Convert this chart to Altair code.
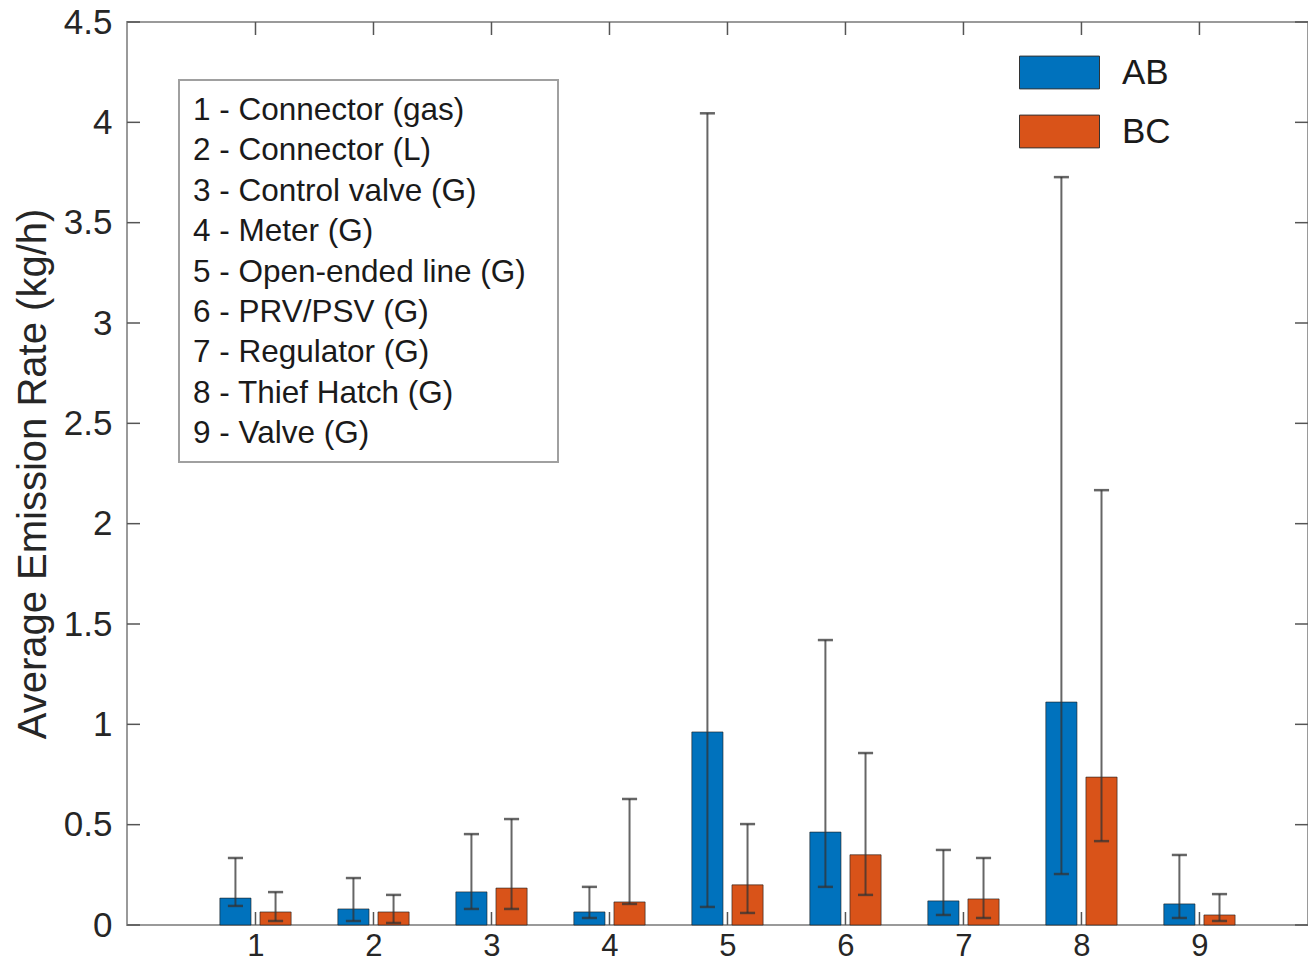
import altair as alt
import pandas as pd

# ---- data ----
categories = [1, 2, 3, 4, 5, 6, 7, 8, 9]
category_labels = [
    "1 - Connector (gas)",
    "2 - Connector (L)",
    "3 - Control valve (G)",
    "4 - Meter (G)",
    "5 - Open-ended line (G)",
    "6 - PRV/PSV (G)",
    "7 - Regulator (G)",
    "8 - Thief Hatch (G)",
    "9 - Valve (G)",
]
series_names = ["AB", "BC"]
ab_mean = [0.134, 0.080, 0.165, 0.065, 0.962, 0.463, 0.120, 1.111, 0.105]
ab_low = [0.095, 0.020, 0.080, 0.035, 0.090, 0.190, 0.050, 0.254, 0.035]
ab_high = [0.334, 0.234, 0.453, 0.190, 4.045, 1.420, 0.374, 3.727, 0.349]
bc_mean = [0.065, 0.065, 0.184, 0.115, 0.200, 0.350, 0.130, 0.737, 0.050]
bc_low = [0.020, 0.010, 0.080, 0.105, 0.060, 0.150, 0.035, 0.418, 0.020]
bc_high = [0.164, 0.150, 0.528, 0.628, 0.503, 0.857, 0.334, 2.167, 0.154]
y_ticks = [0, 0.5, 1, 1.5, 2, 2.5, 3, 3.5, 4, 4.5]
colors = ["#0072BD", "#D95319"]

rows = []
for i, c in enumerate(categories):
    rows.append({"cat": c, "series": "AB", "mean": ab_mean[i], "lo": ab_low[i], "hi": ab_high[i]})
    rows.append({"cat": c, "series": "BC", "mean": bc_mean[i], "lo": bc_low[i], "hi": bc_high[i]})
df = pd.DataFrame(rows)

W, H = 1181, 903
FONT = "Liberation Sans"
TXT = "#262626"

xscale = alt.Scale(domain=[-0.089, 9.92], nice=False, zero=False)
yscale = alt.Scale(domain=[0, 4.5], nice=False)

base = alt.Chart(df).transform_calculate(
    xc="datum.cat + (datum.series == 'AB' ? -0.17 : 0.17)"
).transform_calculate(
    x0="datum.xc - 0.132", x1="datum.xc + 0.132",
    c0="datum.xc - 0.064", c1="datum.xc + 0.064",
)

bars = base.mark_bar(stroke="#1a1a1a", strokeWidth=1, strokeOpacity=0.6).encode(
    x=alt.X("x0:Q", scale=xscale,
            axis=alt.Axis(values=categories, format="d", title=None, grid=False,
                          ticks=False, domain=False, labelFontSize=31,
                          labelColor=TXT, labelFont=FONT, labelPadding=6)),
    x2="x1:Q",
    y=alt.Y("mean:Q", scale=yscale,
            axis=alt.Axis(values=y_ticks, format="~g", title="Average Emission Rate (kg/h)",
                          grid=False, ticks=False, domain=False, labelFontSize=35,
                          labelColor=TXT, labelFont=FONT, labelPadding=15,
                          titleFontSize=40, titleFontWeight="normal", titleColor=TXT,
                          titleFont=FONT, titlePadding=10)),
    y2=alt.value(H),
    color=alt.Color("series:N", scale=alt.Scale(domain=series_names, range=colors),
                    legend=alt.Legend(title=None, orient="none", legendX=892, legendY=10,
                                      symbolType="M-1,-0.41H1V0.41H-1Z", symbolSize=6400,
                                      symbolStrokeColor="#333333", symbolStrokeWidth=1,
                                      symbolOpacity=1, labelFontSize=35, labelFont=FONT,
                                      labelColor="#1a1a1a", labelOffset=22, rowPadding=-34,
                                      padding=0)),
)

err_col = "#333333"
err_line = base.mark_rule(color=err_col, strokeWidth=2, opacity=0.75).encode(
    x="xc:Q", y="lo:Q", y2="hi:Q")
cap_hi = base.mark_rule(color=err_col, strokeWidth=2.5, opacity=0.75).encode(
    x="c0:Q", x2="c1:Q", y="hi:Q")
cap_lo = base.mark_rule(color=err_col, strokeWidth=2.5, opacity=0.75).encode(
    x="c0:Q", x2="c1:Q", y="lo:Q")

# inward ticks (MATLAB style)
ydf = pd.DataFrame({"v": y_ticks})
xdf = pd.DataFrame({"v": categories})
tick_col = "#555555"
yt_left = alt.Chart(ydf).mark_rule(color=tick_col, strokeWidth=1.5).encode(
    y=alt.Y("v:Q", scale=yscale), x=alt.value(0), x2=alt.value(13))
yt_right = alt.Chart(ydf).mark_rule(color=tick_col, strokeWidth=1.5).encode(
    y=alt.Y("v:Q", scale=yscale), x=alt.value(W - 13), x2=alt.value(W))
xt_bot = alt.Chart(xdf).mark_rule(color=tick_col, strokeWidth=1.5).encode(
    x=alt.X("v:Q", scale=xscale), y=alt.value(H - 13), y2=alt.value(H))
xt_top = alt.Chart(xdf).mark_rule(color=tick_col, strokeWidth=1.5).encode(
    x=alt.X("v:Q", scale=xscale), y=alt.value(0), y2=alt.value(13))

# category key box
one = pd.DataFrame({"k": [0]})
key_box = alt.Chart(one).mark_rect(fill="white", stroke="#a0a0a0", strokeWidth=2).encode(
    x=alt.value(52), x2=alt.value(431), y=alt.value(58), y2=alt.value(440))
key_text = alt.Chart(one).mark_text(
    text=category_labels, align="left", baseline="top", lineHeight=40.4,
    fontSize=31.5, font=FONT, color="#1a1a1a").encode(x=alt.value(66), y=alt.value(73))

chart = alt.layer(
    bars, err_line, cap_hi, cap_lo, yt_left, yt_right, xt_bot, xt_top, key_box, key_text
).properties(
    width=W, height=H,
    autosize=alt.AutoSizeParams(type="none"),
    padding={"left": 119, "top": 14, "right": 0, "bottom": 38},
    background="white",
).configure_view(stroke="#9a9a9a", strokeWidth=2)

chart.save("out.html", embed_options={"renderer": "svg", "actions": False})
